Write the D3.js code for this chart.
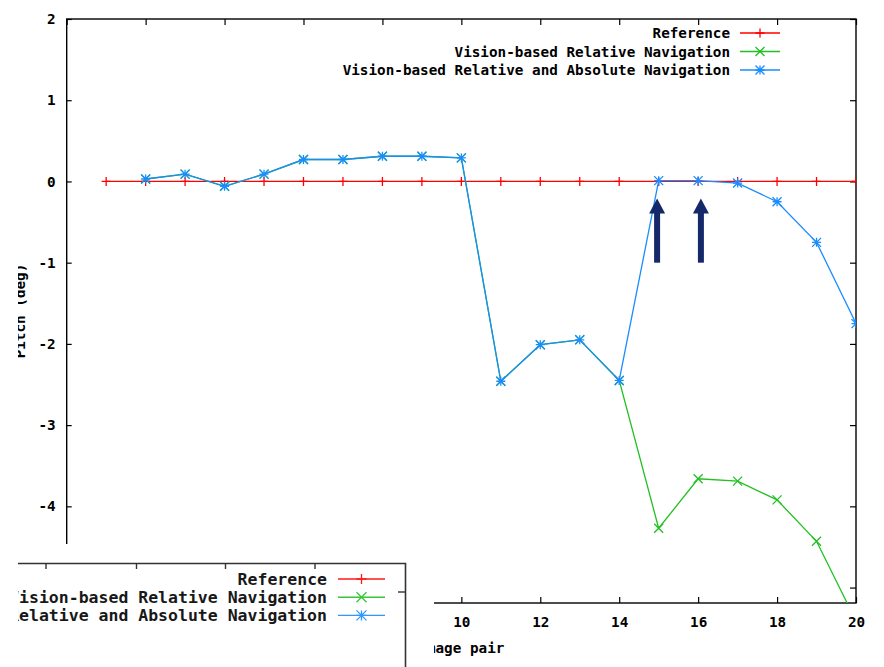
<!DOCTYPE html>
<html>
<head>
<meta charset="utf-8">
<script src="https://cdn.jsdelivr.net/npm/d3@7"></script>
<style>
  body { margin: 0; background: #fff; }
  svg { display: block; }
  text { font-family: 'DejaVu Sans Mono', 'Liberation Mono', monospace; font-weight: bold; }
</style>
</head>
<body>
<svg id="plot" width="884" height="667"></svg>
<script>
// image pair index
const refX = d3.range(1, 21);
const refPitch = refX.map(() => 0);
const navX = d3.range(2, 21);
const relPitch = [0.03, 0.09, -0.06, 0.09, 0.27, 0.27, 0.31, 0.31, 0.29,
  -2.46, -2.01, -1.95, -2.45, -4.27, -3.66, -3.69, -3.92, -4.43, -5.41];
const relAbsPitch = [0.03, 0.09, -0.06, 0.09, 0.27, 0.27, 0.31, 0.31, 0.29,
  -2.46, -2.01, -1.95, -2.45, 0.01, 0.01, -0.02, -0.25, -0.75, -1.75];
const xTicks = d3.range(0, 21, 2);
const yTicks = d3.range(-5, 3, 1);
const arrowX = [14.96, 16.07];
const arrowFrom = -1.0, arrowTo = -0.21;

const series = [
  { name: 'Reference', xs: refX, ys: refPitch, color: '#ff0000', mark: 'plus' },
  { name: 'Vision-based Relative Navigation', xs: navX, ys: relPitch, color: '#22c022', mark: 'cross' },
  { name: 'Vision-based Relative and Absolute Navigation', xs: navX, ys: relAbsPitch, color: '#1a8cff', mark: 'star' }
];

const svg = d3.select('#plot');
const plotL = 66.7, plotR = 856, plotT = 19, plotB = 603;
// pasted legend fragment hides the lower left corner
const cover = { x: 0, y: 544, w: 434, h: 123 };

const xScale = d3.scaleLinear().domain([0, 20]).range([plotL, plotR]);
const yScale = d3.scaleLinear().domain([-5.19, 2]).range([plotB, plotT]);

const markPath = (type, s) => {
  const plus = `M${-s},0H${s}M0,${-s}V${s}`;
  const cross = `M${-s},${-s}L${s},${s}M${-s},${s}L${s},${-s}`;
  if (type === 'plus') return plus;
  if (type === 'cross') return cross;
  return plus + cross;
};

svg.append('clipPath').attr('id', 'clip')
  .append('rect')
    .attr('x', plotL).attr('y', plotT)
    .attr('width', plotR - plotL).attr('height', plotB - plotT);

// ticks, mirrored on all four sides, pointing inward
const tickConfig = g => {
  g.selectAll('.domain').remove();
  g.selectAll('line').attr('stroke', '#000').attr('stroke-width', 1.2);
  g.selectAll('text').attr('font-size', 14.3).attr('fill', '#000');
};

// labels under the cover are not shown in the picture
const xLabel = d => xScale(d) > cover.x + cover.w ? d : '';
const yLabel = d => yScale(d) < cover.y ? (d < 0 ? '-' + Math.abs(d) : d) : '';

svg.append('g')
  .attr('transform', `translate(0, ${plotB})`)
  .call(d3.axisBottom(xScale).tickValues(xTicks).tickSize(-6).tickPadding(14).tickFormat(xLabel))
  .call(tickConfig);
svg.append('g')
  .attr('transform', `translate(0, ${plotT})`)
  .call(d3.axisTop(xScale).tickValues(xTicks).tickSize(-6).tickFormat(''))
  .call(tickConfig);
svg.append('g')
  .attr('transform', `translate(${plotL}, 0)`)
  .call(d3.axisLeft(yScale).tickValues(yTicks).tickSize(-5).tickPadding(11).tickFormat(yLabel))
  .call(tickConfig);
svg.append('g')
  .attr('transform', `translate(${plotR}, 0)`)
  .call(d3.axisRight(yScale).tickValues(yTicks).tickSize(-6).tickFormat(''))
  .call(tickConfig);

svg.append('rect')
  .attr('x', plotL).attr('y', plotT)
  .attr('width', plotR - plotL).attr('height', plotB - plotT)
  .attr('fill', 'none').attr('stroke', '#000').attr('stroke-width', 1.4);

// axis titles
svg.append('text')
  .attr('x', (plotL + plotR) / 2).attr('y', 653)
  .attr('text-anchor', 'middle').attr('font-size', 14.3)
  .text('Image pair');
svg.append('text')
  .attr('transform', `translate(25, ${(plotT + plotB) / 2}) rotate(-90)`)
  .attr('text-anchor', 'middle').attr('font-size', 14.3)
  .text('Pitch (deg)');

// data
const dataG = svg.append('g').attr('clip-path', 'url(#clip)');
const line = d3.line().x(d => xScale(d[0])).y(d => yScale(d[1]));

series.forEach(s => {
  const pts = s.xs.map((x, i) => [x, s.ys[i]]);
  const g = dataG.append('g');
  g.append('path')
    .datum(pts)
    .attr('d', line)
    .attr('fill', 'none')
    .attr('stroke', s.color)
    .attr('stroke-width', 1.3);
  g.selectAll('path.mark').data(pts).enter().append('path')
    .attr('class', 'mark')
    .attr('transform', d => `translate(${xScale(d[0])}, ${yScale(d[1])})`)
    .attr('d', markPath(s.mark, 4.5))
    .attr('fill', 'none')
    .attr('stroke', s.color)
    .attr('stroke-width', 1.3);
});

// annotation arrows
const arrowG = svg.append('g').attr('fill', '#15296a');
arrowX.forEach(x => {
  const cx = xScale(x), y0 = yScale(arrowFrom), y1 = yScale(arrowTo);
  arrowG.append('rect')
    .attr('x', cx - 3).attr('y', y1 + 12)
    .attr('width', 6).attr('height', y0 - y1 - 12);
  arrowG.append('path')
    .attr('d', `M${cx},${y1}L${cx + 8},${y1 + 15}L${cx - 8},${y1 + 15}Z`);
});

// legend inside the plot
const legend = (g, props) => {
  const { x, y0, dy, size, sampleW, gap, markSize } = props;
  series.forEach((s, i) => {
    const y = y0 + i * dy;
    g.append('text')
      .attr('x', x).attr('y', y + size * 0.36)
      .attr('text-anchor', 'end').attr('font-size', size)
      .text(s.name);
    g.append('line')
      .attr('x1', x + gap).attr('x2', x + gap + sampleW)
      .attr('y1', y).attr('y2', y)
      .attr('stroke', s.color).attr('stroke-width', 1.4);
    g.append('path')
      .attr('transform', `translate(${x + gap + sampleW / 2}, ${y})`)
      .attr('d', markPath(s.mark, markSize))
      .attr('fill', 'none').attr('stroke', s.color).attr('stroke-width', 1.3);
  });
};
svg.append('g').call(legend, { x: 730, y0: 33, dy: 18.5, size: 14.3, sampleW: 40, gap: 10, markSize: 4.5 });

// pasted fragment covering the lower left corner
svg.append('rect')
  .attr('x', cover.x).attr('y', cover.y).attr('width', cover.w).attr('height', cover.h)
  .attr('fill', '#fff');
const frag = svg.append('g');
frag.append('path')
  .attr('d', 'M18,563.5H405.5V667')
  .attr('fill', 'none').attr('stroke', '#333').attr('stroke-width', 1.6);
[46, 136.5, 225.5, 315].forEach(x => {
  frag.append('line').attr('x1', x).attr('x2', x).attr('y1', 563.5).attr('y2', 569)
    .attr('stroke', '#333').attr('stroke-width', 1.4);
});
frag.append('line').attr('x1', 398).attr('x2', 405.5).attr('y1', 592).attr('y2', 592)
  .attr('stroke', '#333').attr('stroke-width', 1.4);
const fragLegend = frag.append('g').attr('opacity', 0.9);
fragLegend.call(legend, { x: 327, y0: 579, dy: 18.2, size: 16.5, sampleW: 47, gap: 11, markSize: 5 });

// left edge crop
svg.append('rect')
  .attr('x', 0).attr('y', 0).attr('width', 18).attr('height', 667)
  .attr('fill', '#fff');
</script>
</body>
</html>
